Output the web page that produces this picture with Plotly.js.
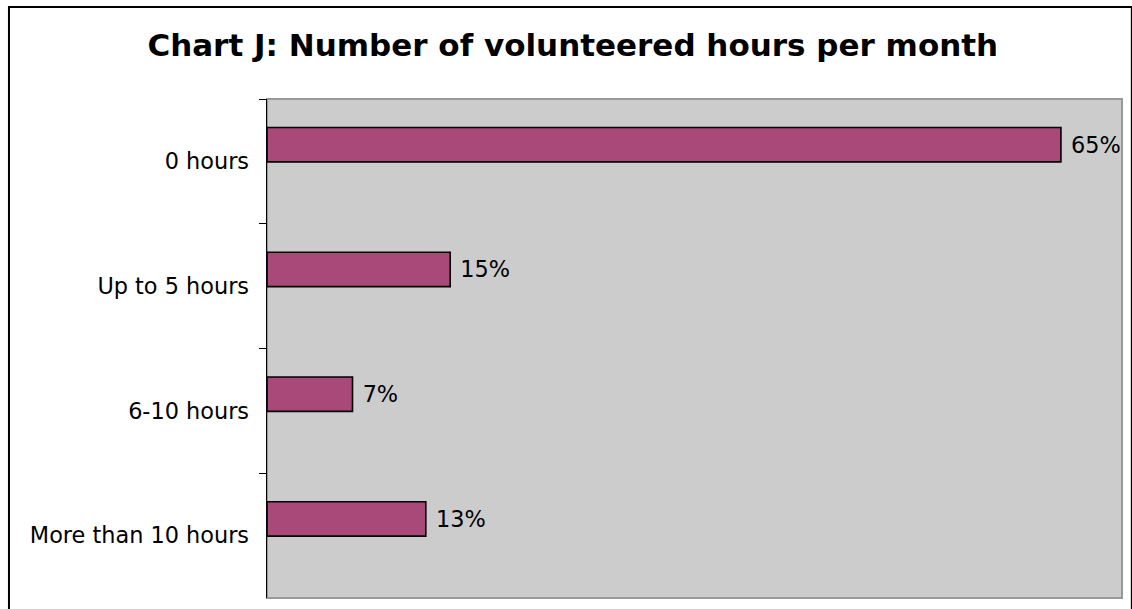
<!DOCTYPE html>
<html>
<head>
<meta charset="utf-8">
<script src="https://cdn.plot.ly/plotly-3.0.1.min.js"></script>
<style>
html, body { margin: 0; padding: 0; background: #ffffff; }
#chart { width: 1132px; height: 609px; }
</style>
</head>
<body>
<div id="chart"></div>
<script>
const categories = ["0 hours", "Up to 5 hours", "6-10 hours", "More than 10 hours"];
const percentages = [65, 15, 7, 13];
const chartTitle = "Chart J: Number of volunteered hours per month";

const trace = {
  type: "bar",
  orientation: "h",
  y: categories,
  x: percentages,
  width: 0.276,
  offset: -0.272,
  marker: { color: "#A8497A", line: { color: "#000000", width: 1.6 } },
  texttemplate: " %{x}%",
  textposition: "outside",
  cliponaxis: false,
  textfont: { family: "DejaVu Sans, Verdana, sans-serif", size: 22.4, color: "#000000" },
  hoverinfo: "skip"
};

const layout = {
  width: 1132,
  height: 609,
  margin: { l: 267, r: 10, t: 99, b: 11 },
  paper_bgcolor: "#ffffff",
  plot_bgcolor: "#CCCCCC",
  showlegend: false,
  title: {
    text: "<b>" + chartTitle + "</b>",
    font: { family: "DejaVu Sans, Verdana, sans-serif", size: 31, color: "#000000" },
    x: 0.506, xanchor: "center", xref: "container",
    y: 1 - 45 / 609, yanchor: "middle", yref: "container"
  },
  xaxis: {
    range: [0, 70],
    showticklabels: false,
    showgrid: false,
    zeroline: false,
    showline: false,
    ticks: ""
  },
  yaxis: {
    type: "category",
    range: [3.5, -0.5],
    tickson: "boundaries",
    ticks: "outside",
    ticklen: 7,
    tickwidth: 1,
    tickcolor: "#000000",
    showline: true,
    linecolor: "#000000",
    linewidth: 1.5,
    showgrid: false,
    zeroline: false,
    ticklabelstandoff: 12,
    tickfont: { family: "DejaVu Sans, Verdana, sans-serif", size: 22.4, color: "#000000" }
  },
  shapes: [
    { type: "rect", xref: "paper", yref: "paper", x0: 0, x1: 1, y0: 0, y1: 1,
      line: { color: "#999999", width: 2 }, layer: "below" },
    { type: "rect", xref: "paper", yref: "paper", x0: -0.3018, x1: 1.0115, y0: -0.04, y1: 1.1845,
      line: { color: "#000000", width: 2 }, layer: "above" }
  ]
};

Plotly.newPlot("chart", [trace], layout, { displayModeBar: false, staticPlot: true });
</script>
</body>
</html>
